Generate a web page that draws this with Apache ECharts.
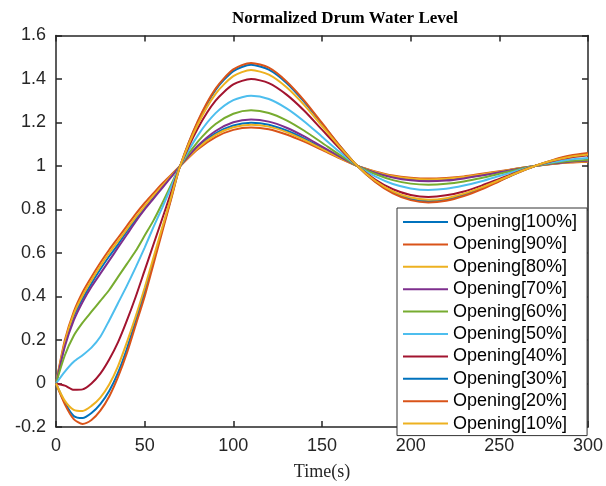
<!DOCTYPE html>
<html>
<head>
<meta charset="utf-8">
<title>Normalized Drum Water Level</title>
<script src="https://cdn.jsdelivr.net/npm/echarts@6/dist/echarts.min.js"></script>
<style>
  html, body { margin: 0; padding: 0; background: #fff; }
  #chart { width: 606px; height: 486px; }
</style>
</head>
<body>
<div id="chart"></div>
<script>
function $(selectors) {
    return document.querySelector(selectors);
}

// time samples (s): 5 s steps up to 70, then 10 s steps
var times = [0, 5, 10, 15, 20, 25, 30, 35, 40, 45, 50, 55, 60, 65, 70,
    80, 90, 100, 110, 120, 130, 140, 150, 160, 170, 180, 190, 200,
    210, 220, 230, 240, 250, 260, 270, 280, 290, 300];

var names = ['Opening[100%]', 'Opening[90%]', 'Opening[80%]', 'Opening[70%]', 'Opening[60%]',
    'Opening[50%]', 'Opening[40%]', 'Opening[30%]', 'Opening[20%]', 'Opening[10%]'];

var colors = ['#0072BD', '#D95319', '#EDB120', '#7E2F8E', '#77AC30',
    '#4DBEEE', '#A2142F', '#0072BD', '#D95319', '#EDB120'];

var op100 = [0, 0.18, 0.31, 0.39, 0.46, 0.525, 0.585, 0.64, 0.7, 0.755, 0.805, 0.855, 0.905, 0.955, 1.0,
    1.087, 1.150, 1.186, 1.199, 1.190, 1.163, 1.126, 1.083, 1.040, 1.0, 0.972, 0.951, 0.939,
    0.935, 0.938, 0.947, 0.959, 0.973, 0.987, 1.0, 1.010, 1.018, 1.022];
var op90 = [0, 0.2, 0.33, 0.42, 0.49, 0.555, 0.615, 0.67, 0.725, 0.78, 0.83, 0.875, 0.92, 0.96, 1.0,
    1.077, 1.133, 1.166, 1.177, 1.169, 1.145, 1.112, 1.074, 1.035, 1.0, 0.975, 0.956, 0.946,
    0.942, 0.945, 0.952, 0.964, 0.976, 0.988, 1.0, 1.009, 1.016, 1.020];
var op80 = [0, 0.19, 0.32, 0.405, 0.475, 0.54, 0.6, 0.655, 0.71, 0.765, 0.815, 0.865, 0.91, 0.955, 1.0,
    1.083, 1.143, 1.178, 1.19, 1.181, 1.156, 1.120, 1.079, 1.038, 1.0, 0.973, 0.953, 0.942,
    0.938, 0.941, 0.949, 0.961, 0.974, 0.988, 1.0, 1.010, 1.017, 1.022];
var op70 = [0, 0.17, 0.29, 0.375, 0.445, 0.505, 0.565, 0.625, 0.685, 0.745, 0.8, 0.85, 0.9, 0.95, 1.0,
    1.093, 1.161, 1.201, 1.214, 1.204, 1.176, 1.136, 1.089, 1.043, 1.0, 0.969, 0.947, 0.934,
    0.93, 0.933, 0.943, 0.956, 0.971, 0.986, 1.0, 1.011, 1.020, 1.024];
var op60 = [0, 0.13, 0.22, 0.28, 0.33, 0.38, 0.43, 0.49, 0.55, 0.61, 0.68, 0.75, 0.83, 0.915, 1.0,
    1.112, 1.193, 1.240, 1.256, 1.244, 1.210, 1.162, 1.107, 1.051, 1.0, 0.963, 0.935, 0.919,
    0.914, 0.918, 0.929, 0.945, 0.964, 0.983, 1.0, 1.014, 1.023, 1.029];
var op50 = [0, 0.055, 0.1, 0.13, 0.165, 0.215, 0.29, 0.37, 0.45, 0.535, 0.625, 0.72, 0.81, 0.905, 1.0,
    1.141, 1.243, 1.303, 1.323, 1.308, 1.265, 1.205, 1.135, 1.064, 1.0, 0.952, 0.917, 0.897,
    0.89, 0.895, 0.910, 0.930, 0.954, 0.978, 1.0, 1.017, 1.030, 1.037];
var op40 = [0, -0.01, -0.029, -0.027, 0, 0.045, 0.11, 0.19, 0.29, 0.4, 0.52, 0.64, 0.76, 0.88, 1.0,
    1.174, 1.301, 1.375, 1.40, 1.381, 1.328, 1.254, 1.167, 1.080, 1.0, 0.938, 0.893, 0.867,
    0.858, 0.865, 0.883, 0.910, 0.941, 0.972, 1.0, 1.023, 1.039, 1.049];
var op30 = [0, -0.088, -0.149, -0.159, -0.136, -0.095, -0.035, 0.05, 0.16, 0.29, 0.42, 0.565, 0.71, 0.855, 1.0,
    1.203, 1.350, 1.436, 1.465, 1.443, 1.382, 1.295, 1.194, 1.093, 1.0, 0.929, 0.878, 0.848,
    0.838, 0.846, 0.867, 0.897, 0.932, 0.968, 1.0, 1.026, 1.045, 1.056];
var op20 = [0, -0.096, -0.164, -0.186, -0.168, -0.125, -0.06, 0.03, 0.14, 0.27, 0.4, 0.55, 0.7, 0.85, 1.0,
    1.207, 1.356, 1.444, 1.474, 1.452, 1.389, 1.301, 1.198, 1.094, 1.0, 0.927, 0.874, 0.843,
    0.832, 0.840, 0.862, 0.893, 0.930, 0.967, 1.0, 1.027, 1.048, 1.060];
var op10 = [0, -0.08, -0.121, -0.126, -0.103, -0.065, -0.005, 0.08, 0.19, 0.31, 0.44, 0.58, 0.72, 0.86, 1.0,
    1.192, 1.332, 1.413, 1.441, 1.420, 1.362, 1.280, 1.184, 1.088, 1.0, 0.932, 0.883, 0.855,
    0.845, 0.852, 0.873, 0.902, 0.935, 0.969, 1.0, 1.025, 1.043, 1.053];

var levels = [op100, op90, op80, op70, op60, op50, op40, op30, op20, op10];

var xTicks = [0, 50, 100, 150, 200, 250, 300];
var yTicks = [-0.2, 0, 0.2, 0.4, 0.6, 0.8, 1, 1.2, 1.4, 1.6];

var myChart = echarts.init($('#chart'), null, { renderer: 'canvas' });

var axisColor = '#262626';
var labelFont = '"Liberation Sans", Arial, sans-serif';

function makeAxis(kind, pos, showLabels) {
    var ticks = kind == 'x' ? xTicks : yTicks;
    var axis = {
        type: 'value',
        position: pos,
        min: ticks[0],
        max: ticks[ticks.length - 1],
        interval: ticks[1] - ticks[0],
        axisLine: { show: true, onZero: false, lineStyle: { color: axisColor, width: 1.5 } },
        axisTick: { show: true, inside: true, length: 6, lineStyle: { color: axisColor, width: 1.5 } },
        axisLabel: {
            show: showLabels,
            fontSize: 18,
            fontFamily: labelFont,
            color: axisColor,
            margin: 10,
            formatter: function(v) { return String(+v.toFixed(1)); }
        },
        splitLine: { show: false }
    };
    if (kind == 'x' && showLabels) {
        axis.name = 'Time(s)';
        axis.nameLocation = 'middle';
        axis.nameGap = 36;
        axis.nameTextStyle = { fontFamily: '"Liberation Serif", "Times New Roman", serif', fontSize: 18, color: axisColor };
    }
    return axis;
}

var series = levels.map(function(vals, i) {
    return {
        name: names[i],
        type: 'line',
        data: times.map(function(t, k) { return [t, vals[k]]; }),
        showSymbol: false,
        symbol: 'none',
        smooth: 0.25,
        lineStyle: { color: colors[i], width: 2 },
        itemStyle: { color: colors[i] },
        z: 2 + i * 0.01
    };
});

var option = {
    animation: false,
    backgroundColor: '#fff',
    color: colors,
    grid: { left: 56, top: 35.5, width: 532, height: 396 },
    xAxis: [makeAxis('x', 'bottom', true), makeAxis('x', 'top', false)],
    yAxis: [makeAxis('y', 'left', true), makeAxis('y', 'right', false)],
    legend: {
        data: names,
        orient: 'vertical',
        left: 397,
        top: 208,
        padding: [5, 10, 3, 6],
        icon: 'rect',
        itemWidth: 45,
        itemHeight: 2,
        itemGap: 4.4,
        backgroundColor: '#fff',
        borderColor: '#333',
        borderWidth: 1,
        borderRadius: 0,
        textStyle: { fontSize: 18, lineHeight: 18, fontFamily: labelFont, color: '#000' }
    },
    graphic: [{
        type: 'text',
        x: 345,
        y: 19,
        style: {
            text: 'Normalized Drum Water Level',
            font: 'bold 17px "Liberation Serif", "Times New Roman", serif',
            fill: '#000',
            textAlign: 'center',
            textVerticalAlign: 'middle'
        }
    }],
    series: series
};

myChart.setOption(option);
</script>
</body>
</html>
